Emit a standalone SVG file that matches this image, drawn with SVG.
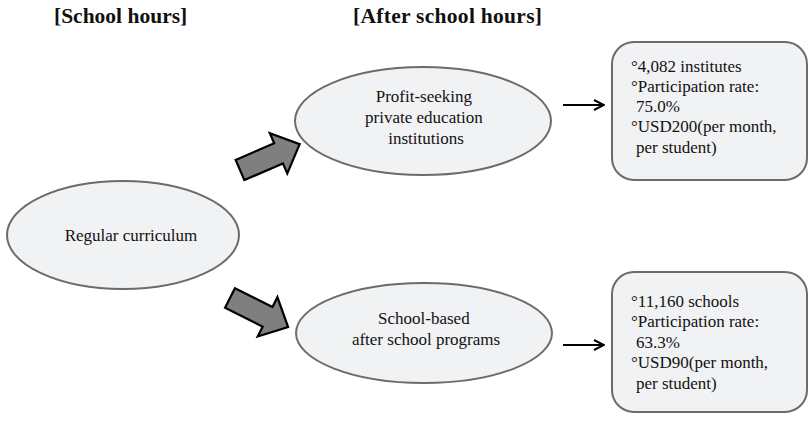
<svg xmlns="http://www.w3.org/2000/svg" width="810" height="422" viewBox="0 0 810 422" font-family="Liberation Serif, Times New Roman, serif">
  <defs>
    <style>
      .title { font-family: "Liberation Serif", serif; font-size: 21.5px; font-weight: bold; fill: #111; }
      .lbl { font-family: "Liberation Serif", serif; font-size: 17px; fill: #111; }
      .node { fill: #f1f2f4; stroke: #6b6b6b; stroke-width: 2; }
      .block { fill: #7f7f7f; stroke: #000; stroke-width: 2.2; stroke-linejoin: miter; }
      .link { stroke: #000; stroke-width: 2; fill: none; }
    </style>
    <marker id="open" viewBox="0 0 12 12" refX="11" refY="6" markerWidth="12" markerHeight="12" markerUnits="userSpaceOnUse" orient="auto">
      <path d="M1,1 L11,6 L1,11" fill="none" stroke="#000" stroke-width="2"/>
    </marker>
    <path id="blockArrow" d="M0,-11 L42,-11 L42,-22 L65,0 L42,22 L42,11 L0,11 Z"/>
  </defs>

  <rect width="810" height="422" fill="#ffffff"/>

  <!-- column headings -->
  <text class="title" x="54" y="23">[School hours]</text>
  <text class="title" x="353" y="23" textLength="189" lengthAdjust="spacing">[After school hours]</text>

  <g id="regular">
    <ellipse class="node" cx="123" cy="235" rx="116" ry="54"/>
    <text class="lbl" x="131" y="241" text-anchor="middle">Regular curriculum</text>
  </g>

  <g id="private">
    <ellipse class="node" cx="423" cy="121" rx="128" ry="54"/>
    <text class="lbl" text-anchor="middle">
      <tspan x="426" y="102">Profit-seeking</tspan>
      <tspan x="426" y="123">private education</tspan>
      <tspan x="426" y="144">institutions</tspan>
    </text>
  </g>

  <g id="school">
    <ellipse class="node" cx="424" cy="333" rx="128" ry="50"/>
    <text class="lbl" text-anchor="middle">
      <tspan x="426" y="324">School-based</tspan>
      <tspan x="426" y="345">after school programs</tspan>
    </text>
  </g>

  <g id="private-stats">
    <rect class="node" x="612" y="42" width="195" height="138" rx="22" ry="22"/>
    <text class="lbl">
      <tspan x="631" y="72">°4,082 institutes</tspan>
      <tspan x="631" y="92">°Participation rate:</tspan>
      <tspan x="636" y="112">75.0%</tspan>
      <tspan x="631" y="132">°USD200(per month,</tspan>
      <tspan x="636" y="153">per student)</tspan>
    </text>
  </g>

  <g id="school-stats">
    <rect class="node" x="612" y="272" width="195" height="140" rx="22" ry="22"/>
    <text class="lbl">
      <tspan x="631" y="307">°11,160 schools</tspan>
      <tspan x="631" y="327">°Participation rate:</tspan>
      <tspan x="636" y="348">63.3%</tspan>
      <tspan x="631" y="368">°USD90(per month,</tspan>
      <tspan x="636" y="389">per student)</tspan>
    </text>
  </g>

  <g id="connectors">
    <use href="#blockArrow" class="block" transform="translate(240,170) rotate(-23.4)"/>
    <use href="#blockArrow" class="block" transform="translate(230,298) rotate(26.6)"/>
    <line class="link" x1="563" y1="105" x2="604" y2="105" marker-end="url(#open)"/>
    <line class="link" x1="563" y1="345" x2="604" y2="345" marker-end="url(#open)"/>
  </g>
</svg>
